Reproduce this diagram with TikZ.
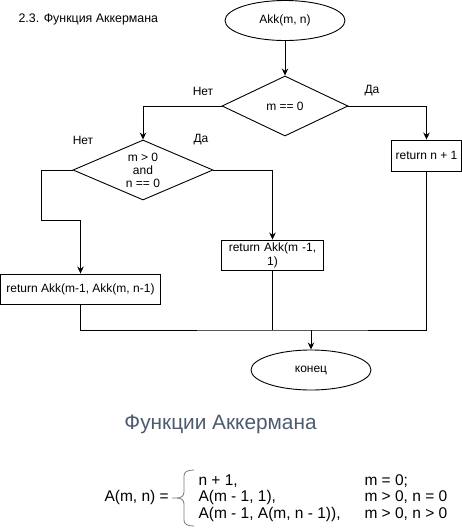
\documentclass[tikz,border=0pt]{standalone}
\usepackage{fontspec}
\setmainfont{Liberation Sans}
\usetikzlibrary{shapes.geometric,arrows.meta}
\definecolor{headcol}{HTML}{4D5B6E}
\definecolor{bracecol}{HTML}{7A7A7A}
\begin{document}
\begin{tikzpicture}[x=1pt,y=-1pt,
  every node/.style={font=\fontsize{12}{14}\selectfont},
  line/.style={draw=black,line width=0.9pt},
  arr/.style={line,-{Stealth[length=7pt,width=6.5pt]}},
  term/.style={ellipse,draw=black,line width=0.9pt,minimum width=120pt,minimum height=40pt,inner sep=0pt},
  dec/.style={diamond,draw=black,line width=0.9pt,inner sep=0pt,aspect=2.33,align=center},
  proc/.style={rectangle,draw=black,line width=0.9pt,inner sep=0pt,align=center},
  lbl/.style={font=\fontsize{12}{14}\selectfont}]
\useasboundingbox (0,0) rectangle (462,531);
% title
\node[anchor=west,font=\fontsize{12.4}{14}\selectfont] (title) at (15,19) {2.3. Функция Аккермана};
% nodes
\node[term] (start) at (285,20.5) {Akk(m, n)};
\node[dec,minimum width=126pt,minimum height=60pt] (d1) at (285,106) {m == 0};
\node[dec,minimum width=140pt,minimum height=60pt,font=\fontsize{12}{13}\selectfont] (d2) at (143,170) {m \textgreater{} 0\\and\\n == 0};
\node[proc,minimum width=70.5pt,minimum height=31pt] (r1) at (426.5,155.5) {return n + 1};
\node[proc,minimum width=102pt,minimum height=30pt,text width=96pt,font=\fontsize{12}{14}\selectfont] (r2) at (272.5,255) {return Akk(m -1,\\1)};
\node[proc,minimum width=159.5pt,minimum height=30pt] (r3) at (80.5,289) {return Akk(m-1, Akk(m, n-1)};
\node[term] (end) at (311,370) {конец};
% labels
\node[lbl] (l1) at (203,91) {Нет};
\node[lbl] (l2) at (372,91) {Да};
\node[lbl] (l3) at (83,140) {Нет};
\node[lbl] (l4) at (201,140) {Да};
% connectors
\coordinate (k1) at (41,220);
\coordinate (j) at (311,330);
\draw[arr] (start) -- (d1);
\draw[arr] (d1.west) -| (d2.north);
\draw[arr] (d1.east) -| (r1.north);
\draw[arr] (d2.west) -| (k1) -| (r3.north);
\draw[arr] (d2.east) -| (r2.north);
\draw[line] (r3.south) |- (j) -| (r1.south);
\draw[line] (r2.south) -- (r2.south |- j);
\draw[arr] (j) -- (end.north);
% heading
\node[font=\fontsize{20.8}{24}\selectfont,text=headcol] (head) at (220.5,424) {Функции Аккермана};
% formula
\node[anchor=west,font=\fontsize{15.5}{18}\selectfont] (lhs) at (101,497.5) {A(m, n) =};
\draw[bracecol,line width=0.8pt] (172,498) -- (177,498) .. controls (181,498) and (184,496) .. (184,492) -- (184,476) .. controls (184,472) and (187,470) .. (194,470);
\draw[bracecol,line width=0.8pt] (177,498) .. controls (181,498) and (184,500) .. (184,504) -- (184,520) .. controls (184,524) and (187,526) .. (194,526);
\begin{scope}[every node/.style={anchor=west,font=\fontsize{15.5}{18}\selectfont}]
\node (c1) at (195,481) {n + 1,};
\node (c2) at (195,497.5) {A(m - 1, 1),};
\node (c3) at (195,514) {A(m - 1, A(m, n - 1)),};
\node (p1) at (361,481) {m = 0;};
\node (p2) at (361,497.5) {m \textgreater{} 0, n = 0};
\node (p3) at (361,514) {m \textgreater{} 0, n \textgreater{} 0};
\end{scope}
\end{tikzpicture}
\end{document}
